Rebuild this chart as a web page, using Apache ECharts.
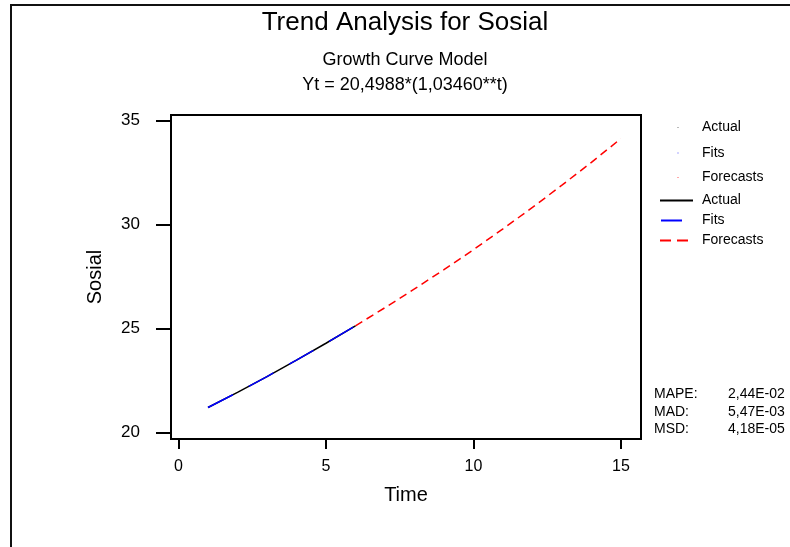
<!DOCTYPE html>
<html>
<head>
<meta charset="utf-8">
<script src="https://cdn.jsdelivr.net/npm/echarts@6/dist/echarts.min.js"></script>
<style>
html,body{margin:0;padding:0;background:#fff;}
#chart{width:790px;height:547px;}
</style>
</head>
<body>
<div id="chart"></div>
<script>
// ---- data ----
var timeActual = [1, 2, 3, 4, 5, 6];
var actualValues = [21.21, 21.94, 22.70, 23.49, 24.30, 25.14];
var fitsValues = [21.21, 21.94, 22.70, 23.49, 24.30, 25.14];
var timeForecast = [6, 7, 8, 9, 10, 11, 12, 13, 14, 15];
var forecastValues = [25.14, 26.01, 26.91, 27.84, 28.80, 29.80, 30.83, 31.90, 33.00, 34.14];
var xTicks = [0, 5, 10, 15];
var yTicks = [20, 25, 30, 35];
var legendNames = ['Actual', 'Fits', 'Forecasts'];
var statNames = ['MAPE:', 'MAD:', 'MSD:'];
var statValues = ['2,44E-02', '5,47E-03', '4,18E-05'];
var titleText = 'Trend Analysis for Sosial';
var subText1 = 'Growth Curve Model';
var subText2 = 'Yt = 20,4988*(1,03460**t)';

function pairs(xs, ys) { return xs.map(function (x, i) { return [x, ys[i]]; }); }

var FONT = 'Arial, "Liberation Sans", sans-serif';
var chart = echarts.init(document.getElementById('chart'), null, { renderer: 'canvas' });

var graphics = [
  { type: 'polyline', shape: { points: [[11, 547], [11, 5], [790, 5]] }, style: { stroke: '#111', lineWidth: 2, fill: null } },
  { type: 'text', x: 405, y: 23, style: { text: titleText, font: '26px ' + FONT, fill: '#000', textAlign: 'center', textVerticalAlign: 'middle' } },
  { type: 'text', x: 405, y: 60, style: { text: subText1, font: '18px ' + FONT, fill: '#000', textAlign: 'center', textVerticalAlign: 'middle' } },
  { type: 'text', x: 405, y: 85, style: { text: subText2, font: '18px ' + FONT, fill: '#000', textAlign: 'center', textVerticalAlign: 'middle' } }
];

// legend (symbol entries then line entries)
var legendY1 = [127.5, 153, 177.5];
var legendY2 = [200.5, 220.5, 240.5];
var dotColors = ['#777', '#55f', '#f55'];
legendNames.forEach(function (n, i) {
  graphics.push({ type: 'rect', shape: { x: 677.5, y: legendY1[i] - 0.5, width: 1, height: 1 }, style: { fill: dotColors[i] } });
  graphics.push({ type: 'text', x: 702, y: legendY1[i], style: { text: n, font: '14px ' + FONT, fill: '#000', textVerticalAlign: 'middle' } });
  graphics.push({ type: 'text', x: 702, y: legendY2[i], style: { text: n, font: '14px ' + FONT, fill: '#000', textVerticalAlign: 'middle' } });
});
graphics.push({ type: 'line', shape: { x1: 660, y1: legendY2[0], x2: 693, y2: legendY2[0] }, style: { stroke: '#000', lineWidth: 2 } });
graphics.push({ type: 'line', shape: { x1: 661, y1: legendY2[1], x2: 682, y2: legendY2[1] }, style: { stroke: '#0000ff', lineWidth: 2 } });
graphics.push({ type: 'line', shape: { x1: 660, y1: legendY2[2], x2: 690, y2: legendY2[2] }, style: { stroke: '#ff0000', lineWidth: 2, lineDash: [11, 6] } });

// stats
var statY = [394, 411.7, 429.3];
statNames.forEach(function (n, i) {
  graphics.push({ type: 'text', x: 654, y: statY[i], style: { text: n, font: '14px ' + FONT, fill: '#000', textVerticalAlign: 'middle' } });
  graphics.push({ type: 'text', x: 728, y: statY[i], style: { text: statValues[i], font: '14px ' + FONT, fill: '#000', textVerticalAlign: 'middle' } });
});

var option = {
  animation: false,
  backgroundColor: '#fff',
  grid: { left: 171, right: 149, top: 115, bottom: 108, show: true, borderColor: '#000', borderWidth: 2, backgroundColor: 'transparent' },
  xAxis: {
    type: 'value', min: -0.254, max: 15.68,
    name: 'Time', nameLocation: 'middle', nameGap: 46,
    nameTextStyle: { fontFamily: FONT, fontSize: 20, color: '#000' },
    axisLine: { show: false, onZero: false },
    axisTick: { show: true, inside: false, length: 10, customValues: xTicks, lineStyle: { color: '#000', width: 2 } },
    axisLabel: { customValues: xTicks, margin: 20, fontFamily: FONT, fontSize: 16, color: '#000' },
    splitLine: { show: false }
  },
  yAxis: {
    type: 'value', min: 19.697, max: 35.274,
    name: 'Sosial', nameLocation: 'middle', nameGap: 66,
    nameTextStyle: { fontFamily: FONT, fontSize: 20, color: '#000' },
    axisLine: { show: false, onZero: false },
    axisTick: { show: true, inside: false, length: 15, customValues: yTicks, lineStyle: { color: '#000', width: 2 } },
    axisLabel: { customValues: yTicks, margin: 31, fontFamily: FONT, fontSize: 17, color: '#000' },
    splitLine: { show: false }
  },
  series: [
    { name: 'Forecasts', type: 'line', data: pairs(timeForecast, forecastValues), showSymbol: false, lineStyle: { color: '#ff0000', width: 1.5, type: [8, 5] }, z: 2 },
    { name: 'Actual', type: 'line', data: pairs(timeActual, actualValues), showSymbol: false, lineStyle: { color: '#000', width: 1.5 }, z: 3 },
    { name: 'Fits', type: 'line', data: pairs(timeActual, fitsValues), showSymbol: false, lineStyle: { color: '#0000ff', width: 1.5, type: [28, 18] }, z: 4 }
  ],
  graphic: graphics
};
chart.setOption(option);
</script>
</body>
</html>
